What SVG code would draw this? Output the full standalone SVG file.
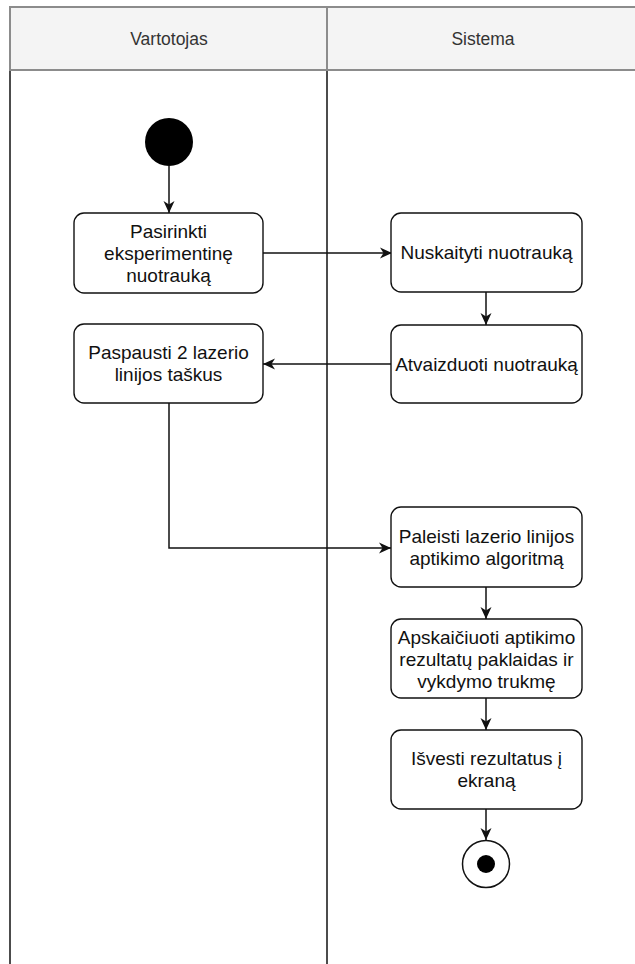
<svg xmlns="http://www.w3.org/2000/svg" width="635" height="964" viewBox="0 0 635 964">
  <style>
    .hdr { fill: #f4f4f4; stroke: #8c8c8c; stroke-width: 2; }
    .lane { fill: none; stroke: #111; stroke-width: 1.5; }
    .act { fill: #fff; stroke: #111; stroke-width: 1.4; }
    .lbl { font-family: "Liberation Sans", Arial, sans-serif; font-size: 19px; fill: #111; text-anchor: middle; }
    .hlbl { font-family: "Liberation Sans", Arial, sans-serif; font-size: 17.5px; fill: #333; text-anchor: middle; }
    .edge { fill: none; stroke: #111; stroke-width: 1.5; }
  </style>
  <defs>
    <marker id="arrow" markerUnits="userSpaceOnUse" markerWidth="13" markerHeight="13" viewBox="0 0 13 13" refX="12" refY="6.5" orient="auto">
      <path d="M0,1 L12,6.5 L0,12 L3.5,6.5 z" fill="#111"/>
    </marker>
  </defs>

  <!-- swimlanes -->
  <g id="lanes">
    <rect class="hdr" x="10" y="7" width="640" height="63"/>
    <line class="hdr" x1="327" y1="7" x2="327" y2="70"/>
    <line class="lane" x1="10" y1="71" x2="10" y2="964"/>
    <line class="lane" x1="327" y1="71" x2="327" y2="964"/>
    <text class="hlbl" x="169" y="45">Vartotojas</text>
    <text class="hlbl" x="483" y="45">Sistema</text>
  </g>

  <!-- connectors -->
  <g id="connectors">
    <path class="edge" d="M169,166 L169,213" marker-end="url(#arrow)"/>
    <path class="edge" d="M263,253 L392,253" marker-end="url(#arrow)"/>
    <path class="edge" d="M486,292 L486,325" marker-end="url(#arrow)"/>
    <path class="edge" d="M391,364 L263,364" marker-end="url(#arrow)"/>
    <path class="edge" d="M169,403 L169,548 L391,548" marker-end="url(#arrow)"/>
    <path class="edge" d="M486,587 L486,619" marker-end="url(#arrow)"/>
    <path class="edge" d="M486,698 L486,730" marker-end="url(#arrow)"/>
    <path class="edge" d="M486,809 L486,840" marker-end="url(#arrow)"/>
  </g>

  <!-- start / end states -->
  <g id="start">
    <circle cx="169" cy="142" r="24" fill="#000"/>
  </g>
  <g id="end">
    <circle cx="486" cy="864" r="23.5" fill="#fff" stroke="#111" stroke-width="1.5"/>
    <circle cx="486" cy="864" r="9" fill="#000"/>
  </g>

  <!-- activities -->
  <g id="pasirinkti">
    <rect class="act" x="74" y="213" width="189" height="80" rx="10"/>
    <text class="lbl" x="168.5" y="238">Pasirinkti</text>
    <text class="lbl" x="168.5" y="260">eksperimentinę</text>
    <text class="lbl" x="168.5" y="282">nuotrauką</text>
  </g>
  <g id="paspausti">
    <rect class="act" x="74" y="324" width="189" height="79" rx="10"/>
    <text class="lbl" x="168.5" y="359">Paspausti 2 lazerio</text>
    <text class="lbl" x="168.5" y="381">linijos taškus</text>
  </g>
  <g id="nuskaityti">
    <rect class="act" x="391" y="213" width="191" height="79" rx="10"/>
    <text class="lbl" x="486.5" y="259">Nuskaityti nuotrauką</text>
  </g>
  <g id="atvaizduoti">
    <rect class="act" x="391" y="325" width="191" height="78" rx="10"/>
    <text class="lbl" x="486.5" y="371">Atvaizduoti nuotrauką</text>
  </g>
  <g id="paleisti">
    <rect class="act" x="391" y="507" width="191" height="80" rx="10"/>
    <text class="lbl" x="486.5" y="543">Paleisti lazerio linijos</text>
    <text class="lbl" x="486.5" y="565">aptikimo algoritmą</text>
  </g>
  <g id="apskaiciuoti">
    <rect class="act" x="391" y="619" width="191" height="79" rx="10"/>
    <text class="lbl" x="486.5" y="644">Apskaičiuoti aptikimo</text>
    <text class="lbl" x="486.5" y="666">rezultatų paklaidas ir</text>
    <text class="lbl" x="486.5" y="688">vykdymo trukmę</text>
  </g>
  <g id="isvesti">
    <rect class="act" x="391" y="730" width="191" height="79" rx="10"/>
    <text class="lbl" x="486.5" y="765">Išvesti rezultatus į</text>
    <text class="lbl" x="486.5" y="787">ekraną</text>
  </g>
</svg>
